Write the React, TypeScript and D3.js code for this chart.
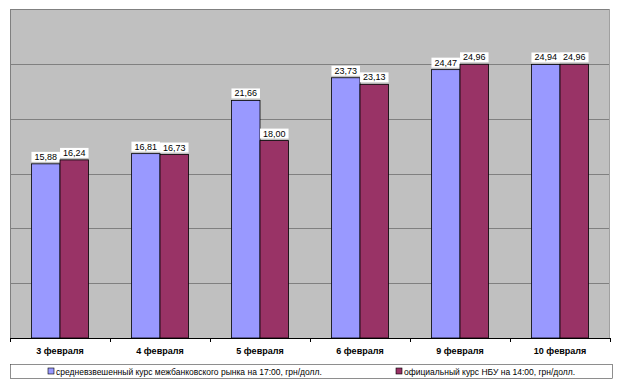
import React from "react";
import * as d3 from "d3";

const categories = ["3 февраля", "4 февраля", "5 февраля", "6 февраля", "9 февраля", "10 февраля"];
const interbank = [15.88, 16.81, 21.66, 23.73, 24.47, 24.94];
const nbu = [16.24, 16.73, 18.0, 23.13, 24.96, 24.96];
const seriesNames = [
  "средневзвешенный курс межбанковского рынка на 17:00, грн/долл.",
  "официальный курс НБУ на 14:00, грн/долл.",
];
const yTicks = [0, 5, 10, 15, 20, 25, 30];

const W = 620;
const H = 386;
const left = 10;
const right = 610;
const top = 9;
const bottom = 338;
const colors = ["#9999ff", "#993366"];
const font = "Arial, 'Liberation Sans', sans-serif";

const fmt = (v: number) => v.toFixed(2).replace(".", ",");

export default function App() {
  const x = d3.scaleBand<string>().domain(categories).range([left, right]).paddingInner(0).paddingOuter(0);
  const y = d3.scaleLinear().domain([0, 30]).range([bottom, top]);
  const bw = x.bandwidth();
  const barW = bw / 3.5;
  const series = [interbank, nbu];

  return (
    <svg width={W} height={H} style={{ position: "absolute", left: 0, top: 0, background: "#fff" }}>
      <rect x={left} y={top} width={right - left} height={bottom - top} fill="#c0c0c0" />
      {yTicks.map((t) => (
        <line key={t} x1={left} x2={right} y1={Math.round(y(t)) + 0.5} y2={Math.round(y(t)) + 0.5} stroke="#808080" strokeWidth={1} />
      ))}
      <line x1={left + 0.5} x2={left + 0.5} y1={top} y2={bottom} stroke="#808080" />
      <line x1={right - 0.5} x2={right - 0.5} y1={top} y2={bottom} stroke="#a0a0a0" />
      {categories.map((c, i) => {
        const x0 = x(c)! + barW * 0.75;
        return (
          <g key={c}>
            {series.map((s, k) => {
              const bx = x0 + k * barW;
              const by = y(s[i]);
              const label = fmt(s[i]);
              const tw = label.length * 5.1;
              return (
                <g key={k}>
                  <rect x={bx} y={by} width={barW} height={bottom - by} fill={colors[k]} stroke="#000" strokeWidth={0.8} />
                  <rect x={bx + barW / 2 - tw / 2 - 1.5} y={by - 12} width={tw + 3} height={10} fill="#fff" />
                  <text x={bx + barW / 2} y={by - 4} textAnchor="middle" fontSize={9} fontFamily={font} fill="#000">
                    {label}
                  </text>
                </g>
              );
            })}
            <text x={x(c)! + bw / 2} y={354} textAnchor="middle" fontSize={9} fontWeight="bold" fontFamily={font} fill="#000">
              {c}
            </text>
          </g>
        );
      })}
      <line x1={left} x2={right} y1={bottom + 0.5} y2={bottom + 0.5} stroke="#000" strokeWidth={1} />
      {d3.range(categories.length + 1).map((i) => {
        const tx = Math.round(left + i * bw) + 0.5;
        return <line key={i} x1={tx} x2={tx} y1={bottom} y2={bottom + 4} stroke="#000" />;
      })}
      <rect x={10.5} y={364.5} width={602} height={14} fill="#fff" stroke="#444" strokeWidth={0.6} />
      {seriesNames.map((n, k) => {
        const lx = k === 0 ? 48 : 396;
        return (
          <g key={n}>
            <rect x={lx} y={368} width={6} height={6} fill={colors[k]} stroke="#000" strokeWidth={0.6} />
            <text x={lx + 8} y={374.5} fontSize={8.5} fontFamily={font} fill="#000">
              {n}
            </text>
          </g>
        );
      })}
    </svg>
  );
}
